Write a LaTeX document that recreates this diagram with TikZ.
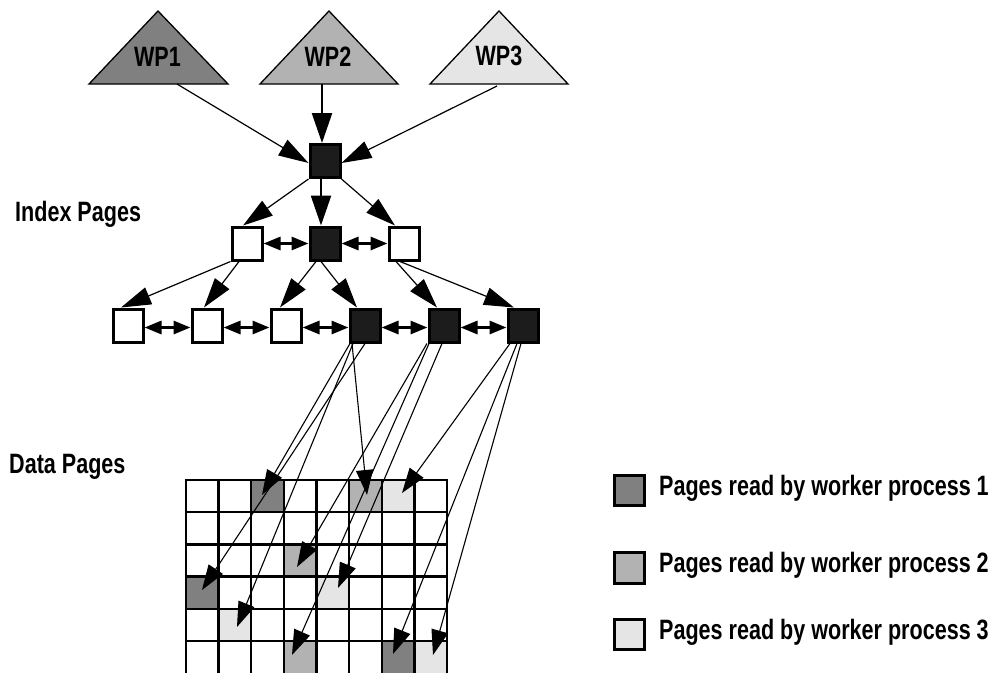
\documentclass[tikz,border=0pt]{standalone}
\usepackage{fontspec}
\setmainfont{Liberation Sans}[FakeStretch=0.77]
\usetikzlibrary{arrows.meta}

\definecolor{wpone}{gray}{0.5}
\definecolor{wptwo}{gray}{0.7}
\definecolor{wpthree}{gray}{0.9}
\definecolor{pagefill}{gray}{0.11}

\begin{document}
\begin{tikzpicture}[x=1pt,y=-1pt,
  lbl/.style={font=\fontsize{28}{31}\selectfont\bfseries, inner sep=0pt, anchor=base},
  page/.style={draw=black, line width=3pt, minimum width=30pt, minimum height=33pt, inner sep=0pt},
  hot/.style={page, fill=pagefill},
  cold/.style={page, fill=white},
  link/.style={line width=1.2pt, -{Triangle[length=30pt,width=18pt]}},
  trunk/.style={line width=2.4pt, -{Triangle[length=30pt,width=20pt]}},
  sib/.style={line width=3pt, {Triangle[length=17pt,width=13pt]}-{Triangle[length=17pt,width=13pt]}},
  fetch/.style={line width=1.1pt, -{Triangle[length=25pt,width=17pt]}},
  cellgrid/.style={line width=2.4pt},
  wp/.style={draw=black, line width=1.3pt, line join=miter},
  key/.style={draw=black, line width=2.7pt, minimum width=30.5pt, minimum height=30.5pt, inner sep=0pt}
]
\useasboundingbox (0,0) rectangle (994,673);
\fill[white] (0,0) rectangle (994,673);

% worker processes
\draw[wp, fill=wpone]   (89,84)  -- (158,11) -- (228,84) -- cycle;
\draw[wp, fill=wptwo]   (260,84) -- (329,11) -- (398,84) -- cycle;
\draw[wp, fill=wpthree] (430,84) -- (499,11) -- (568,84) -- cycle;
\node[lbl] (w1) at (157.5,66) {WP1};
\node[lbl] (w2) at (328,66) {WP2};
\node[lbl] (w3) at (499,65) {WP3};
\coordinate (w1out) at (177,84);
\coordinate (w2out) at (322,84);
\coordinate (w3out) at (497,86);

% index pages
\node[hot]  (r)  at (325,161) {};
\node[cold] (a1) at (247,243.5) {};
\node[hot]  (a2) at (325,243.5) {};
\node[cold] (a3) at (404,243.5) {};
\node[cold] (b1) at (128,325.5) {};
\node[cold] (b2) at (207,325.5) {};
\node[cold] (b3) at (286,325.5) {};
\node[hot]  (b4) at (365,325.5) {};
\node[hot]  (b5) at (444,325.5) {};
\node[hot]  (b6) at (523,325.5) {};

\node[lbl, anchor=base west] (idx) at (15,221) {Index Pages};
\node[lbl, anchor=base west] (dat) at (9,473) {Data Pages};

% tree links
\draw[link]  (w1out) -- ([yshift=-2pt]r.west);
\draw[trunk] (w2out) -- ([xshift=-3pt]r.north);
\draw[link]  (w3out) -- ([yshift=-2pt]r.east);

\draw[link]  (r.south west) -- ([xshift=-4pt]a1.north);
\draw[trunk] ([xshift=-4pt]r.south) -- ([xshift=-4pt]a2.north);
\draw[link]  (r.south east) -- ([xshift=-9pt]a3.north);

\draw[link] (a1.south west) -- ([xshift=-7pt]b1.north);
\draw[link] ([xshift=-8pt]a1.south) -- ([xshift=-3pt]b2.north);
\draw[link] ([xshift=-9pt]a2.south) -- ([xshift=-6pt]b3.north);
\draw[link] ([xshift=-4pt]a2.south) -- ([xshift=-8pt]b4.north);
\draw[link] ([xshift=-8pt]a3.south) -- ([xshift=-7pt]b5.north);
\draw[link] ([xshift=-4pt]a3.south) -- ([xshift=-9pt]b6.north);

% sibling links
\draw[sib] (a1.east) -- (a2.west);
\draw[sib] (a2.east) -- (a3.west);
\draw[sib] ([yshift=-2pt]b1.east) -- ([yshift=-2pt]b2.west);
\draw[sib] ([yshift=-2pt]b2.east) -- ([yshift=-2pt]b3.west);
\draw[sib] ([yshift=-2pt]b3.east) -- ([yshift=-2pt]b4.west);
\draw[sib] ([yshift=-2pt]b4.east) -- ([yshift=-2pt]b5.west);
\draw[sib] ([yshift=-2pt]b5.east) -- ([yshift=-2pt]b6.west);

% data pages
\foreach \c/\r/\col in {2/0/wpone, 5/0/wptwo, 6/0/wpthree, 3/2/wptwo, 0/3/wpone,
                        4/3/wpthree, 1/4/wpthree, 3/5/wptwo, 6/5/wpone, 7/5/wpthree}
  \fill[\col] ({186+\c*32.625},{480+\r*32.2}) rectangle ++(32.625,32.2);
\foreach \c in {0,...,8}
  \draw[cellgrid] ({186+\c*32.625},480) -- ({186+\c*32.625},673);
\foreach \r in {0,...,5}
  \draw[cellgrid] (184.8,{480+\r*32.2}) -- (448.2,{480+\r*32.2});

\coordinate (t02) at (262,495);
\coordinate (t05) at (367,495);
\coordinate (t06) at (402,493);
\coordinate (t23) at (297,567);
\coordinate (t30) at (202,590);
\coordinate (t34) at (338,588);
\coordinate (t41) at (237,627);
\coordinate (t53) at (292,655);
\coordinate (t56) at (393,654);
\coordinate (t57) at (433,655);

% page reads
\draw[fetch] ([xshift=-15pt]b4.south) -- (t02);
\draw[fetch] ([xshift=-13pt]b4.south) -- (t05);
\draw[fetch] (b4.south) -- (t30);
\draw[fetch] ([xshift=-12pt]b4.south) -- (t41);
\draw[fetch] ([xshift=-17pt]b5.south) -- (t23);
\draw[fetch] ([xshift=-15pt]b5.south) -- (t53);
\draw[fetch] ([xshift=-2pt]b5.south) -- (t34);
\draw[fetch] ([xshift=-13pt]b6.south) -- (t06);
\draw[fetch] ([xshift=-6pt]b6.south) -- (t56);
\draw[fetch] ([xshift=-2pt]b6.south) -- (t57);

% legend
\node[key, fill=wpone]   (k1) at (629.5,490.5) {};
\node[key, fill=wptwo]   (k2) at (629.5,568) {};
\node[key, fill=wpthree] (k3) at (629.5,634.5) {};
\node[lbl, anchor=base west] (l1) at (659,495) {Pages read by worker process 1};
\node[lbl, anchor=base west] (l2) at (659,572) {Pages read by worker process 2};
\node[lbl, anchor=base west] (l3) at (659,639) {Pages read by worker process 3};
\end{tikzpicture}
\end{document}
